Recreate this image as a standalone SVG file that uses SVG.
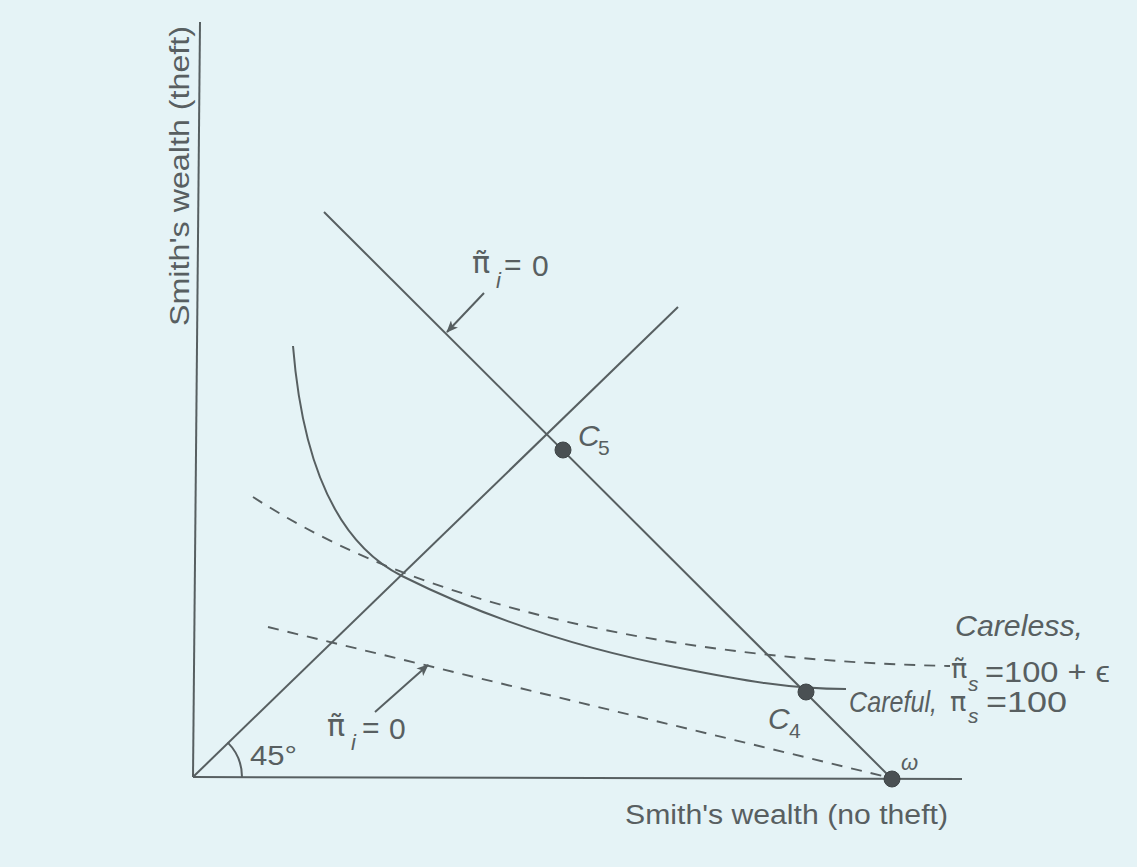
<svg xmlns="http://www.w3.org/2000/svg" width="1137" height="867" viewBox="0 0 1137 867">
<defs>
<style>
.ln{fill:none;stroke:#575f61;stroke-width:2}
.dash{fill:none;stroke:#575f61;stroke-width:1.9;stroke-dasharray:11 9}
.dot{fill:#4a5053;stroke:#3e4446;stroke-width:1}
.t{font-family:"Liberation Sans",Arial,sans-serif;fill:#585f61}
.pi{font-family:"DejaVu Sans",sans-serif;fill:#585f61}
.it{font-style:italic}
</style>
<marker id="ah" viewBox="0 0 12 10" refX="11" refY="5" markerWidth="13" markerHeight="10" markerUnits="userSpaceOnUse" orient="auto">
<path d="M0,0 L12,5 L0,10 L3,5 Z" fill="#575f61"/>
</marker>
</defs>
<rect width="1137" height="867" fill="#e5f3f6"/>
<g id="axes">
<line class="ln" x1="200" y1="22" x2="193" y2="777"/>
<line class="ln" x1="193" y1="777" x2="962" y2="779"/>
<path class="ln" d="M242,777 A49,49 0 0 0 227.6,742.4"/>
<text class="t" x="250" y="765" font-size="28" textLength="47" lengthAdjust="spacingAndGlyphs">45°</text>
<text class="t" font-size="27" transform="translate(189,326) rotate(-90)" textLength="300" lengthAdjust="spacingAndGlyphs">Smith's wealth (theft)</text>
<text class="t" x="625" y="824" font-size="27" textLength="323" lengthAdjust="spacingAndGlyphs">Smith's wealth (no theft)</text>
</g>
<g id="connectors">
<line id="line45" class="ln" x1="193" y1="777" x2="678" y2="307"/>
<line id="budget" class="ln" x1="324" y1="212" x2="893" y2="780"/>
<path id="careful-curve" class="ln" d="M293,346 C303,470 340,545 402,576 C470,610 560,645 680,668 C740,680 790,689 846,689"/>
<path id="careless-curve" class="dash" d="M253,497 C320,540 400,578 520,610 C650,645 800,663 950,666"/>
<line id="iso-lower" class="dash" x1="268" y1="627" x2="891" y2="778"/>
<line class="ln" x1="484" y1="293" x2="447" y2="332" marker-end="url(#ah)"/>
<line class="ln" x1="375" y1="712" x2="428" y2="665" marker-end="url(#ah)"/>
</g>
<g id="label-pi-top">
<text class="pi" x="472" y="273" font-size="30">π̃</text>
<text class="t it" x="496" y="288" font-size="22">i</text>
<text class="t" x="504" y="275" font-size="30">=</text>
<text class="t" x="532" y="276" font-size="30">0</text>
</g>
<g id="label-pi-bottom">
<text class="pi" x="327" y="736" font-size="30">π̃</text>
<text class="t it" x="351" y="750" font-size="22">i</text>
<text class="t" x="362" y="738" font-size="30">=</text>
<text class="t" x="389" y="739" font-size="30">0</text>
</g>
<g id="C5">
<circle class="dot" cx="563" cy="450" r="8"/>
<text class="t it" x="578" y="446" font-size="30">C</text>
<text class="t" x="598" y="455" font-size="21">5</text>
</g>
<g id="C4">
<circle class="dot" cx="806" cy="692" r="8"/>
<text class="t it" x="768" y="729" font-size="30">C</text>
<text class="t" x="789" y="738" font-size="21">4</text>
</g>
<g id="omega">
<circle class="dot" cx="892" cy="779" r="8"/>
<text class="t it" x="901" y="770" font-size="22">ω</text>
</g>
<g id="label-careless">
<text class="t it" x="955" y="636" font-size="29" textLength="128" lengthAdjust="spacingAndGlyphs">Careless,</text>
<text class="pi" x="951" y="678" font-size="27">π̃</text>
<text class="t it" x="968" y="691" font-size="21">s</text>
<text class="t" x="985" y="682" font-size="29" textLength="125" lengthAdjust="spacingAndGlyphs">=100 + ϵ</text>
</g>
<g id="label-careful">
<text class="t it" x="849" y="712" font-size="29" textLength="88" lengthAdjust="spacingAndGlyphs">Careful,</text>
<text class="pi" x="950" y="711" font-size="27">π</text>
<text class="t it" x="968" y="723" font-size="21">s</text>
<text class="t" x="986" y="712" font-size="29" textLength="81" lengthAdjust="spacingAndGlyphs">=100</text>
</g>
</svg>
